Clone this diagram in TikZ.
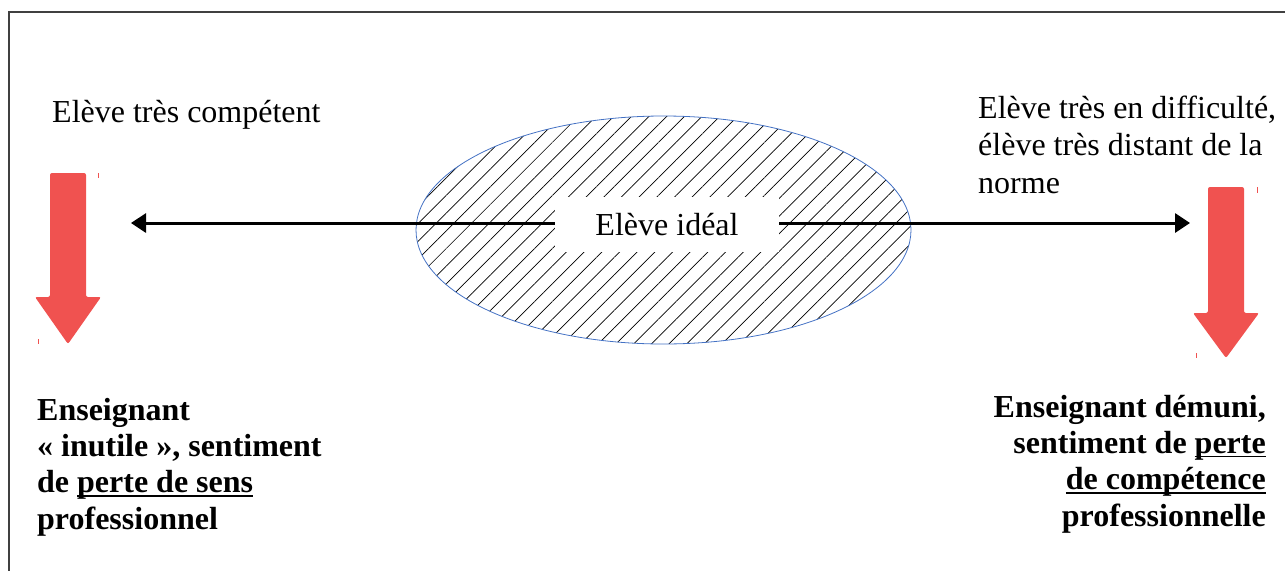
\documentclass[tikz,border=0pt]{standalone}
\usepackage{fontspec}
\setmainfont{Liberation Serif}
\usetikzlibrary{arrows.meta,patterns.meta,shapes.geometric}
\definecolor{redarrow}{RGB}{240,82,80}
\definecolor{ellblue}{RGB}{68,114,196}
\definecolor{framegray}{RGB}{64,64,64}
\newcommand{\undl}[1]{\setbox0\hbox{#1}\rlap{\rule[-4pt]{\wd0}{1.6pt}}\box0}
\tikzset{
  lbl/.style={inner sep=0pt,font=\fontsize{32}{37.5}\selectfont},
  boldlbl/.style={inner sep=0pt,font=\fontsize{32}{36.3}\selectfont\bfseries},
  axis/.style={line width=3pt,-{Triangle[length=15pt,width=19pt]}},
  bigarrow/.style={fill=redarrow,draw=none,rounded corners=2pt},
  tick/.style={draw=redarrow,line width=0.8pt}
}
\begin{document}
\begin{tikzpicture}[x=1pt,y=-1pt]
\useasboundingbox (0,0) rectangle (1285,571);
\draw[framegray,line width=1.3pt] (1285,12) -- (9,12) -- (9,571);
% ellipse
\node[ellipse,minimum width=495pt,minimum height=228pt,inner sep=0pt,draw=ellblue,line width=0.8pt,
  pattern={Lines[angle=45,distance=12.5pt,line width=0.7pt]}] (ell) at (663.5,230) {};
% central label
\node[lbl,fill=white,minimum width=224pt,minimum height=55pt] (ideal) at (667,224.5) {Elève idéal};
\coordinate (ltip) at (131,223);
\coordinate (rtip) at (1190,223);
\draw[axis] (ideal.west |- ltip) -- (ltip);
\draw[axis] (ideal.east |- rtip) -- (rtip);
% top labels
\node[lbl,anchor=base west] (comp) at (52,122) {Elève très compétent};
\node[lbl,anchor=base west,align=left] (diff) at (978,193) {Elève très en difficulté,\\élève très distant de la\\norme};
% red arrows
\fill[bigarrow] (50,173) -- (86,173) -- (86,297) -- (101,297) -- (68,344) -- (35,297) -- (50,297) -- cycle;
\fill[bigarrow] (1208,187) -- (1244,187) -- (1244,313) -- (1259,313) -- (1226,358) -- (1193,313) -- (1208,313) -- cycle;
\draw[tick] (98,173) -- (98,178);
\draw[tick] (38,339) -- (38,344);
\draw[tick] (1257,187) -- (1257,193);
\draw[tick] (1196,353) -- (1196,358);
% bottom labels
\node[boldlbl,anchor=base west,align=left] (inutile) at (37,529) {Enseignant\\« inutile », sentiment\\de \undl{perte de sens}\\professionnel};
\node[boldlbl,anchor=base east,align=right] (demuni) at (1266,526) {Enseignant démuni,\\sentiment de \undl{perte}\\\undl{de compétence}\\professionnelle};
\end{tikzpicture}
\end{document}
